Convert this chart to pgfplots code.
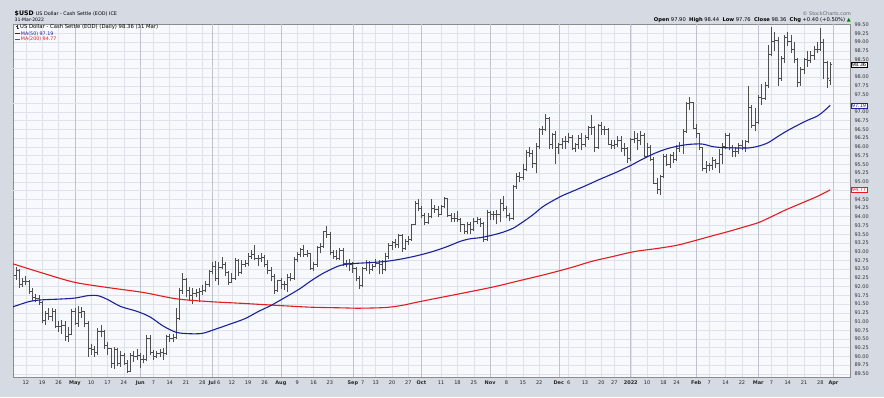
\documentclass[border=0pt]{standalone}
\usepackage{pgfplots}
\pgfplotsset{compat=1.18}
\usepackage{pgfplotstable}
\usepackage{fontspec}
\setmainfont{DejaVu Sans}
\pgfdeclarelayer{background}
\pgfsetlayers{background,main}
\definecolor{bgout}{RGB}{213,218,227}
\definecolor{plotbg}{RGB}{248,249,252}
\definecolor{gridc}{RGB}{222,226,235}
\definecolor{gridm}{RGB}{190,195,206}
\definecolor{barc}{RGB}{78,78,78}
\definecolor{maBlue}{RGB}{28,34,150}
\definecolor{maRed}{RGB}{226,28,34}

\pgfplotstableread{
i o h l c
0 92.33 92.55 92.20 92.46
1 92.46 92.50 91.95 92.06
2 92.06 92.25 91.98 92.16
3 92.16 92.30 92.05 92.16
4 92.16 92.20 91.80 91.85
5 91.85 91.95 91.60 91.69
6 91.69 91.80 91.55 91.65
7 91.65 91.75 91.48 91.56
8 91.56 91.60 90.95 91.04
9 91.04 91.30 90.90 91.22
10 91.22 91.40 91.05 91.14
11 91.14 91.40 91.00 91.29
12 91.29 91.35 90.80 90.86
13 90.86 91.00 90.70 90.85
14 90.85 91.05 90.65 90.88
15 90.88 91.00 90.45 90.58
16 90.58 90.85 90.42 90.62
17 90.62 91.35 90.60 91.28
18 91.28 91.40 90.90 90.96
19 90.96 91.45 90.85 91.27
20 91.27 91.42 91.10 91.28
21 91.28 91.30 90.85 90.96
22 90.96 91.00 89.98 90.22
23 90.22 90.35 90.05 90.21
24 90.21 90.30 89.98 90.12
25 90.12 90.80 90.05 90.71
26 90.71 90.90 90.55 90.72
27 90.72 90.75 90.20 90.31
28 90.31 90.40 90.05 90.23
29 90.23 90.25 89.68 89.81
30 89.81 90.28 89.65 90.21
31 90.21 90.25 89.72 89.79
32 89.79 90.15 89.70 90.02
33 90.02 90.10 89.75 89.80
34 89.80 89.90 89.53 89.56
35 89.56 90.10 89.55 90.03
36 90.03 90.15 89.85 89.99
37 89.99 90.20 89.90 90.03
38 90.03 90.10 89.66 89.92
39 89.92 90.05 89.80 89.91
40 89.91 90.62 89.88 90.52
41 90.52 90.60 90.05 90.13
42 90.13 90.18 89.90 90.00
43 90.00 90.15 89.95 90.08
44 90.08 90.20 89.98 90.12
45 90.12 90.25 89.90 90.08
46 90.08 90.60 90.05 90.57
47 90.57 90.65 90.40 90.51
48 90.51 90.65 90.40 90.54
49 90.54 91.40 90.50 91.08
50 91.08 91.95 91.05 91.90
51 91.90 92.40 91.80 92.22
52 92.22 92.25 91.70 91.90
53 91.90 92.00 91.60 91.76
54 91.76 91.95 91.50 91.81
55 91.81 91.92 91.70 91.83
56 91.83 91.95 91.55 91.85
57 91.85 92.05 91.75 91.90
58 91.90 92.15 91.85 92.07
59 92.07 92.47 92.00 92.44
60 92.44 92.70 92.35 92.59
61 92.59 92.73 92.15 92.23
62 92.23 92.70 92.05 92.55
63 92.55 92.84 92.50 92.65
64 92.65 92.70 92.30 92.40
65 92.40 92.45 92.05 92.12
66 92.12 92.40 92.10 92.23
67 92.23 92.82 92.20 92.76
68 92.76 92.80 92.30 92.40
69 92.40 92.75 92.35 92.63
70 92.63 92.75 92.55 92.67
71 92.67 92.95 92.60 92.87
72 92.87 93.05 92.80 92.92
73 92.92 93.19 92.75 92.81
74 92.81 92.90 92.60 92.82
75 92.82 92.95 92.70 92.85
76 92.85 92.90 92.55 92.63
77 92.63 92.75 92.35 92.46
78 92.46 92.55 92.15 92.30
79 92.30 92.35 91.78 91.88
80 91.88 92.20 91.85 92.17
81 92.17 92.25 91.92 92.05
82 92.05 92.15 91.90 92.05
83 92.05 92.35 91.85 92.27
84 92.27 92.40 92.15 92.25
85 92.25 92.85 92.20 92.78
86 92.78 93.00 92.70 92.93
87 92.93 93.10 92.85 93.06
88 93.06 93.20 92.85 92.91
89 92.91 93.05 92.85 92.95
90 92.95 92.97 92.47 92.52
91 92.52 92.70 92.45 92.63
92 92.63 93.15 92.55 93.11
93 93.11 93.25 92.95 93.14
94 93.14 93.60 93.10 93.58
95 93.58 93.73 93.40 93.50
96 93.50 93.55 92.90 92.97
97 92.97 93.05 92.80 92.86
98 92.86 93.05 92.75 92.81
99 92.81 93.10 92.75 93.03
100 93.03 93.10 92.60 92.67
101 92.67 92.75 92.55 92.67
102 92.67 92.80 92.45 92.63
103 92.63 92.70 92.40 92.52
104 92.52 92.55 92.15 92.24
105 92.24 92.30 91.94 92.04
106 92.04 92.55 92.00 92.52
107 92.52 92.75 92.45 92.69
108 92.69 92.72 92.35 92.50
109 92.50 92.65 92.45 92.58
110 92.58 92.80 92.55 92.67
111 92.67 92.75 92.35 92.63
112 92.63 92.75 92.35 92.48
113 92.48 92.95 92.45 92.86
114 92.86 93.25 92.80 93.19
115 93.19 93.30 93.05 93.27
116 93.27 93.35 93.10 93.21
117 93.21 93.50 93.10 93.46
118 93.46 93.50 93.00 93.09
119 93.09 93.35 93.05 93.31
120 93.31 93.45 93.20 93.36
121 93.36 93.80 93.30 93.77
122 93.77 94.45 93.75 94.37
123 94.37 94.50 94.15 94.23
124 94.23 94.30 93.95 94.04
125 94.04 94.10 93.75 93.83
126 93.83 94.10 93.80 94.01
127 94.01 94.50 93.95 94.24
128 94.24 94.35 94.10 94.20
129 94.20 94.30 94.00 94.08
130 94.08 94.35 94.05 94.31
131 94.31 94.56 94.25 94.52
132 94.52 94.55 94.00 94.05
133 94.05 94.10 93.85 93.96
134 93.96 94.10 93.85 93.96
135 93.96 94.15 93.85 93.94
136 93.94 93.95 93.55 93.78
137 93.78 93.80 93.50 93.58
138 93.58 93.85 93.50 93.79
139 93.79 93.85 93.50 93.64
140 93.64 93.95 93.60 93.88
141 93.88 94.00 93.80 93.94
142 93.94 93.95 93.70 93.80
143 93.80 93.85 93.28 93.35
144 93.35 94.20 93.30 94.12
145 94.12 94.15 93.90 94.06
146 94.06 94.15 93.90 94.07
147 94.07 94.20 93.80 94.07
148 94.07 94.50 93.85 94.38
149 94.38 94.60 94.15 94.23
150 94.23 94.30 93.95 94.05
151 94.05 94.10 93.87 93.95
152 93.95 94.90 93.90 94.86
153 94.86 95.25 94.80 95.17
154 95.17 95.27 95.00 95.13
155 95.13 95.50 95.05 95.37
156 95.37 95.90 95.30 95.84
157 95.84 96.00 95.70 95.82
158 95.82 95.90 95.40 95.54
159 95.54 96.10 95.25 96.03
160 96.03 96.55 95.95 96.50
161 96.50 96.60 96.35 96.51
162 96.51 96.94 96.45 96.81
163 96.81 96.85 95.95 96.07
164 96.07 96.40 95.95 96.35
165 96.35 96.45 95.52 95.99
166 95.99 96.10 95.80 96.06
167 96.06 96.25 95.95 96.16
168 96.16 96.30 95.95 96.17
169 96.17 96.40 96.10 96.28
170 96.28 96.35 95.90 95.95
171 95.95 96.10 95.85 96.07
172 96.07 96.35 95.95 96.24
173 96.24 96.40 95.90 96.08
174 96.08 96.35 96.00 96.28
175 96.28 96.60 96.20 96.55
176 96.55 96.91 96.35 96.57
177 96.57 96.60 95.85 95.99
178 95.99 96.65 95.95 96.62
179 96.62 96.70 96.35 96.49
180 96.49 96.60 96.35 96.50
181 96.50 96.55 96.05 96.07
182 96.07 96.20 95.95 96.05
183 96.05 96.20 95.95 96.06
184 96.06 96.30 96.00 96.20
185 96.20 96.30 95.85 95.97
186 95.97 96.10 95.75 95.97
187 95.97 96.00 95.55 95.67
188 95.67 96.25 95.60 96.21
189 96.21 96.45 96.10 96.26
190 96.26 96.40 95.90 96.19
191 96.19 96.45 96.05 96.34
192 96.34 96.40 95.70 95.74
193 95.74 96.10 95.70 95.98
194 95.98 96.05 95.60 95.64
195 95.64 95.70 94.95 94.96
196 94.96 95.10 94.65 94.79
197 94.79 95.20 94.63 95.17
198 95.17 95.80 95.10 95.72
199 95.72 95.80 95.45 95.51
200 95.51 95.80 95.40 95.76
201 95.76 95.85 95.55 95.64
202 95.64 96.05 95.60 95.97
203 95.97 96.15 95.85 96.04
204 96.04 96.50 95.80 96.44
205 96.44 97.30 96.40 97.25
206 97.25 97.44 97.05 97.27
207 97.27 97.30 96.50 96.54
208 96.54 96.65 96.25 96.39
209 96.39 96.40 95.90 95.99
210 95.99 96.00 95.30 95.39
211 95.39 95.60 95.25 95.48
212 95.48 95.55 95.30 95.46
213 95.46 95.70 95.35 95.62
214 95.62 95.65 95.40 95.52
215 95.52 95.95 95.25 95.79
216 95.79 96.10 95.50 96.03
217 96.03 96.40 95.95 96.33
218 96.33 96.40 95.90 95.99
219 95.99 96.05 95.70 95.86
220 95.86 96.00 95.70 95.86
221 95.86 96.10 95.80 96.04
222 96.04 96.20 95.90 96.00
223 96.00 96.20 95.85 96.16
224 96.16 97.74 96.10 97.13
225 97.13 97.20 96.55 96.61
226 96.61 97.10 96.45 96.71
227 96.71 97.50 96.65 97.41
228 97.41 97.80 97.20 97.40
229 97.40 97.85 97.35 97.77
230 97.77 98.93 97.70 98.66
231 98.66 99.42 98.60 99.03
232 99.03 99.30 98.75 99.05
233 99.05 99.15 97.73 97.96
234 97.96 98.60 97.90 98.53
235 98.53 99.20 98.40 99.13
236 99.13 99.30 98.90 99.01
237 99.01 99.20 98.70 98.80
238 98.80 99.00 98.40 98.51
239 98.51 98.55 97.71 97.84
240 97.84 98.30 97.75 98.22
241 98.22 98.55 98.10 98.50
242 98.50 98.75 98.30 98.49
243 98.49 98.75 98.40 98.62
244 98.62 98.90 98.50 98.80
245 98.80 99.00 98.70 98.80
246 98.80 99.40 98.75 98.99
247 98.99 99.10 97.95 98.41
248 98.41 98.45 97.68 97.96
249 97.90 98.44 97.76 98.36
}\ohlc

\begin{document}
\begin{tikzpicture}[x=1pt,y=1pt]
\begin{axis}[
  name=ax, scale only axis,
  width=837pt, height=353pt,
  xmin=-0.92, xmax=255.05, ymin=89.41, ymax=99.52,
  axis background/.style={fill=plotbg},
  axis line style={draw=black!45, line width=0.6pt},
  major tick length=0pt,
  grid=major,
  major grid style={draw=gridc, line width=0.5pt},
  ytick={89.5,89.75,90,90.25,90.5,90.75,91,91.25,91.5,91.75,92,92.25,92.5,92.75,93,93.25,93.5,93.75,94,94.25,94.5,95,95.25,95.5,95.75,96,96.25,96.5,96.75,97,97.5,97.75,98,98.5,98.75,99,99.25,99.5},
  extra y ticks={94.75,97.25,98.25},
  extra y tick labels={},
  extra y tick style={grid=major, major grid style={draw=gridc, line width=0.5pt}},
  yticklabel pos=right,
  yticklabel style={font=\fontsize{5}{6}\selectfont, text=black!80, anchor=west, xshift=1pt,
    /pgf/number format/.cd, fixed, fixed zerofill, precision=2, assume math mode=true},
  xtick={3,8,13,18,23,28,33,38,42,47,52,57,60,62,66,71,76,81,86,91,96,103,106,110,115,120,124,130,135,140,145,150,155,160,166,169,174,179,183,188,193,198,202,208,212,217,222,227,231,236,241,246,250},
  xticklabels={12,19,26,\textbf{May},10,17,24,\textbf{Jun},7,14,21,28,\textbf{Jul},6,12,19,26,\textbf{Aug},9,16,23,\textbf{Sep},7,13,20,27,\textbf{Oct},11,18,25,\textbf{Nov},8,15,22,\textbf{Dec},6,13,20,27,\textbf{2022},10,18,24,\textbf{Feb},7,14,22,\textbf{Mar},7,14,21,28,\textbf{Apr}},
  xticklabel style={font=\fontsize{5}{6}\selectfont, text=black!85},
  extra x ticks={18,38,60,81,103,124,145,166,188,208,227,250},
  extra x tick labels={},
  extra x tick style={grid=major, major grid style={draw=gridm, line width=0.6pt}},
]
\addplot[barc, line width=0.65pt, forget plot, quiver={u=0, v=\thisrow{h}-\thisrow{l}}] table[x=i, y=l] {\ohlc};
\addplot[barc, line width=0.65pt, forget plot, quiver={u=-0.5, v=0}] table[x=i, y=o] {\ohlc};
\addplot[barc, line width=0.65pt, forget plot, quiver={u=0.5, v=0}] table[x=i, y=c] {\ohlc};

\addplot[maRed, line width=1.1pt, smooth] coordinates {
(-0.9,92.65) (8,92.39) (18,92.12) (29,91.96) (39,91.83) (49,91.65) (59,91.57) (69,91.52) (80,91.46) (90,91.41) (100,91.39) (105,91.38) (113,91.40) (118,91.46) (123,91.56) (130,91.69) (136,91.80) (146,91.99) (154,92.17) (162,92.35) (170,92.55) (176,92.72) (182,92.85) (189,93.00) (196,93.09) (202,93.18) (207,93.30) (212,93.43) (218,93.58) (222,93.69) (227,93.83) (231,94.00) (235,94.18) (240,94.38) (245,94.58) (249,94.77)};

\addplot[maBlue, line width=1.1pt, smooth] coordinates {
(-0.9,91.42) (4,91.57) (8,91.62) (13,91.64) (18,91.67) (22,91.74) (25,91.74) (28,91.63) (32,91.43) (37,91.29) (41,91.13) (45,90.87) (49,90.69) (53,90.65) (57,90.66) (61,90.78) (65,90.91) (70,91.08) (74,91.28) (78,91.46) (81,91.62) (84,91.78) (87,91.95) (90,92.15) (93,92.33) (96,92.48) (99,92.60) (102,92.65) (105,92.67) (109,92.69) (113,92.72) (116,92.76) (119,92.81) (122,92.87) (125,92.94) (128,93.02) (132,93.15) (136,93.30) (139,93.37) (142,93.40) (146,93.48) (149,93.56) (152,93.67) (155,93.85) (158,94.05) (161,94.28) (164,94.45) (167,94.60) (170,94.72) (174,94.88) (178,95.05) (181,95.17) (184,95.29) (188,95.47) (191,95.62) (194,95.76) (197,95.88) (200,95.97) (204,96.05) (207,96.08) (210,96.08) (213,96.01) (216,95.98) (220,95.97) (224,95.97) (227,96.02) (230,96.12) (233,96.30) (236,96.47) (239,96.62) (242,96.76) (245,96.88) (247,97.02) (249,97.19)};

\coordinate (SW) at (rel axis cs:0,0);
\coordinate (lpv) at (axis cs:255.05,98.36);
\coordinate (lbv) at (axis cs:255.05,97.19);
\coordinate (lrv) at (axis cs:255.05,94.77);
\end{axis}

% value boxes on the right axis
\node[draw=black, fill=white, line width=0.5pt, inner sep=0.6pt, anchor=west, font=\fontsize{5}{5.5}\selectfont] at ([xshift=1pt]lpv) {98.36};
\node[draw=maBlue, fill=white, line width=0.5pt, inner sep=0.6pt, anchor=west, text=maBlue, font=\fontsize{5}{5.5}\selectfont] at ([xshift=1pt]lbv) {97.19};
\node[draw=maRed, fill=white, line width=0.5pt, inner sep=0.6pt, anchor=west, text=maRed, font=\fontsize{5}{5.5}\selectfont] at ([xshift=1pt]lrv) {94.77};

\coordinate (O) at ([xshift=-13pt,yshift=-20pt]SW);
\begin{scope}[shift={(O)}]
\begin{pgfonlayer}{background}
\fill[bgout] (0,0) rectangle (884,397);
\end{pgfonlayer}
% in-plot legend
\draw[black!80, line width=0.5pt] (17.2,372.3) -- (17.2,367.8) (15.6,371.2) -- (17.2,371.2) (17.2,369) -- (18.8,369);
\node[anchor=west, inner sep=0, font=\fontsize{5.3}{6}\selectfont] at (20,370) {US Dollar - Cash Settle (EOD) (Daily) 98.36 (31 Mar)};
\draw[maBlue, line width=1pt] (15.5,363.3) -- (20.5,363.3);
\node[anchor=west, inner sep=0, text=maBlue, font=\fontsize{4.8}{6}\selectfont] at (20.7,363.3) {MA(50) 97.19};
\draw[maRed, line width=1pt] (15.5,357.7) -- (20.5,357.7);
\node[anchor=west, inner sep=0, text=maRed, font=\fontsize{4.8}{6}\selectfont] at (20.7,357.7) {MA(200) 94.77};
% header
\node[anchor=west, inner sep=0] at (14.5,383.7) {\fontsize{6.2}{7}\selectfont\bfseries \$USD\ \fontsize{4.9}{6}\mdseries\selectfont US Dollar - Cash Settle (EOD) ICE};
\node[anchor=west, inner sep=0, font=\fontsize{4.6}{6}\selectfont] at (14.5,377.3) {31-Mar-2022};
\node[anchor=east, inner sep=0, text=black!60, font=\fontsize{4.9}{6}\selectfont] at (851,383.3) {© StockCharts.com};
\node[anchor=east, inner sep=0, font=\fontsize{5.2}{6}\selectfont] at (851,376.5) {\textbf{Open} 97.90 \ \textbf{High} 98.44 \ \textbf{Low} 97.76 \ \textbf{Close} 98.36 \ \textbf{Chg} +0.40 (+0.50\%) {\color{green!50!black}▲}};
\end{scope}
\end{tikzpicture}
\end{document}
